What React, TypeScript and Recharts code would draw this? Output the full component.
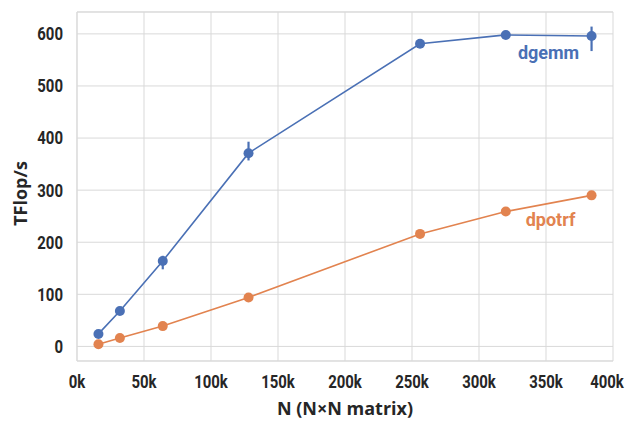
import React from "react"
import { LineChart, Line, XAxis, YAxis, CartesianGrid, ErrorBar, LabelList, ReferenceLine, Label } from "recharts"

// matrix size N and measured throughput (TFlop/s)
const nValues = [16000, 32000, 64000, 128000, 256000, 320000, 384000]
const dgemm = [24, 68, 164, 371, 581, 598, 596]
const dgemmErr = [[0, 0], [0, 0], [16, 10], [14, 22], [0, 0], [0, 0], [29, 18]]
const dpotrf = [4, 16, 39, 94, 216, 259, 290]

const xTicks = [0, 50000, 100000, 150000, 200000, 250000, 300000, 350000, 400000]
const yTicks = [0, 100, 200, 300, 400, 500, 600]
const yDomain = [-28, 642]

const BLUE = "#4a70b5"
const ORANGE = "#e2834f"
const GRID = "#d9d9d9"
const INK = "#262626"
const TITLE_FONT = "'Open Sans', 'Liberation Sans', sans-serif"

const data = nValues.map((n, i) => ({
  n,
  dgemm: dgemm[i],
  dgemmErr: dgemmErr[i],
  dpotrf: dpotrf[i],
}))

// narrow bold tick text (squeezed Roboto)
function NarrowTick(props: any) {
  const { x, y, payload, anchor, dy, fmt } = props
  return (
    <g transform={`translate(${x},${y}) scale(0.83,1)`}>
      <text
        x={0}
        y={0}
        dy={dy}
        textAnchor={anchor}
        fill={INK}
        fontFamily="Roboto, sans-serif"
        fontWeight={700}
        fontSize={18}
      >
        {fmt(payload.value)}
      </text>
    </g>
  )
}

function seriesLabel(name: string, color: string, dx: number, dy: number) {
  return (props: any) => {
    if (props.index !== data.length - 1) return null
    return (
      <text
        x={props.x + dx}
        y={props.y + dy}
        textAnchor="middle"
        dominantBaseline="central"
        fill={color}
        fontFamily="Roboto, sans-serif"
        fontWeight={700}
        fontSize={18}
      >
        {name}
      </text>
    )
  }
}

function YTitle(props: any) {
  const vb = props.viewBox
  const cx = 20
  const cy = vb.y + vb.height / 2 + 7
  return (
    <text
      x={cx}
      y={cy}
      transform={`rotate(-90 ${cx} ${cy})`}
      textAnchor="middle"
      dominantBaseline="central"
      fill={INK}
      fontFamily={TITLE_FONT}
      fontWeight={700}
      fontSize={18}
    >
      TFlop/s
    </text>
  )
}

export default function App() {
  return (
    <div style={{ width: 631, height: 421, background: "#fff" }}>
      <style>{"body{margin:0}"}</style>
      <LineChart width={631} height={421} data={data} margin={{ top: 12, right: 18, bottom: 0, left: 0 }}>
        <CartesianGrid stroke={GRID} strokeWidth={1} />
        <XAxis
          dataKey="n"
          type="number"
          domain={[0, 400000]}
          ticks={xTicks}
          tick={<NarrowTick anchor="middle" dy="0.71em" fmt={(v: number) => `${v / 1000}k`} />}
          tickLine={false}
          tickSize={0}
          tickMargin={14}
          axisLine={{ stroke: GRID }}
          height={60}
        >
          <Label
            value="N (N×N matrix)"
            position="insideBottom"
            offset={6}
            fill={INK}
            fontFamily={TITLE_FONT}
            fontWeight={700}
            fontSize={18}
          />
        </XAxis>
        <YAxis
          type="number"
          domain={yDomain}
          allowDataOverflow
          ticks={yTicks}
          tick={<NarrowTick anchor="end" dy="0.355em" fmt={(v: number) => `${v}`} />}
          tickLine={false}
          tickSize={0}
          tickMargin={14}
          axisLine={{ stroke: GRID }}
          width={77}
        >
          <Label content={<YTitle />} />
        </YAxis>
        <ReferenceLine y={yDomain[1]} stroke={GRID} />
        <Line
          type="linear"
          dataKey="dgemm"
          stroke={BLUE}
          strokeWidth={1.6}
          dot={{ r: 5, fill: BLUE, stroke: BLUE, strokeWidth: 0 }}
          isAnimationActive={false}
        >
          <ErrorBar dataKey="dgemmErr" width={0} stroke={BLUE} strokeWidth={2.2} direction="y" />
          <LabelList dataKey="dgemm" content={seriesLabel("dgemm", BLUE, -43, 17)} />
        </Line>
        <Line
          type="linear"
          dataKey="dpotrf"
          stroke={ORANGE}
          strokeWidth={1.6}
          dot={{ r: 5, fill: ORANGE, stroke: ORANGE, strokeWidth: 0 }}
          isAnimationActive={false}
        >
          <LabelList dataKey="dpotrf" content={seriesLabel("dpotrf", ORANGE, -41, 24)} />
        </Line>
      </LineChart>
    </div>
  )
}
